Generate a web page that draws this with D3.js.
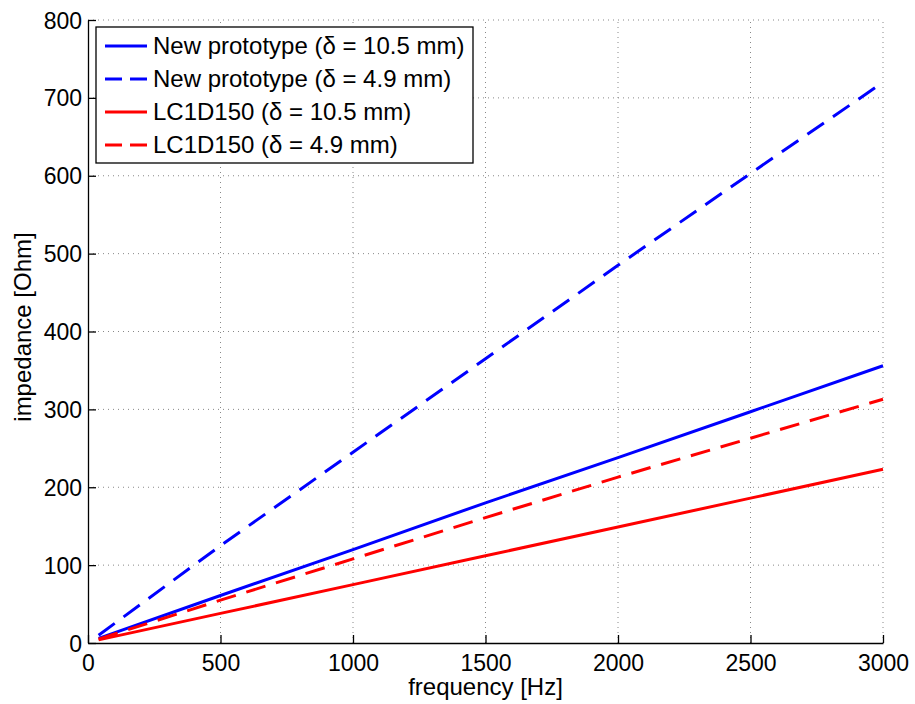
<!DOCTYPE html>
<html>
<head>
<meta charset="utf-8">
<style>
  body { margin: 0; background: #fff; }
  text { font-family: "Liberation Sans", Arial, sans-serif; fill: #000; }
</style>
</head>
<body>
<div id="chart"><svg></svg></div>
<script src="https://d3js.org/d3.v7.min.js"></script>
<script>
var freq = [40, 500, 1000, 1500, 2000, 2500, 3000];
var newProto105 = [6, 61, 120, 180, 238, 297, 356];
var newProto49 = [10, 125, 245, 365, 485, 603, 720];
var lc105 = [4, 38, 75, 112, 149, 186, 223];
var lc49 = [5, 55, 108, 161, 213, 263, 313];
var xTicks = [0, 500, 1000, 1500, 2000, 2500, 3000];
var yTicks = [0, 100, 200, 300, 400, 500, 600, 700, 800];

var series = [
  { name: "New prototype (\u03b4 = 10.5 mm)", values: newProto105, color: "#0000ff", dash: null },
  { name: "New prototype (\u03b4 = 4.9 mm)", values: newProto49, color: "#0000ff", dash: "20,11" },
  { name: "LC1D150 (\u03b4 = 10.5 mm)", values: lc105, color: "#ff0000", dash: null },
  { name: "LC1D150 (\u03b4 = 4.9 mm)", values: lc49, color: "#ff0000", dash: "20,11" }
];

var width = 915, height = 704;
var plotLeft = 88, plotRight = 883, plotTop = 20, plotBottom = 643;

var svg = d3.select("#chart svg").attr("width", width).attr("height", height);

var x = d3.scaleLinear().domain([0, 3000]).range([plotLeft, plotRight]);
var y = d3.scaleLinear().domain([0, 800]).range([plotBottom, plotTop]);

// grid
var grid = svg.append("g");
grid.selectAll(".gx").data(xTicks.slice(1)).enter().append("line")
  .attr("x1", function(d) { return x(d); }).attr("x2", function(d) { return x(d); })
  .attr("y1", plotBottom).attr("y2", plotTop)
  .attr("stroke", "#888").attr("stroke-width", 1).attr("stroke-dasharray", "1,4");
grid.selectAll(".gy").data(yTicks.slice(1)).enter().append("line")
  .attr("y1", function(d) { return y(d); }).attr("y2", function(d) { return y(d); })
  .attr("x1", plotLeft).attr("x2", plotRight)
  .attr("stroke", "#888").attr("stroke-width", 1).attr("stroke-dasharray", "1,4");

// axes (ticks inward like matlab)
var xAxis = svg.append("g").attr("transform", "translate(0," + plotBottom + ")")
  .call(d3.axisBottom(x).tickValues(xTicks).tickFormat(d3.format("d"))
    .tickSizeInner(-8).tickSizeOuter(0).tickPadding(10));
var yAxis = svg.append("g").attr("transform", "translate(" + plotLeft + ",0)")
  .call(d3.axisLeft(y).tickValues(yTicks).tickFormat(d3.format("d"))
    .tickSizeInner(-8).tickSizeOuter(0).tickPadding(6));
[xAxis, yAxis].forEach(function(a) {
  a.select(".domain").attr("stroke", "#000").attr("stroke-width", 1.3);
  a.selectAll(".tick line").attr("stroke", "#000").attr("stroke-width", 1.3);
  a.selectAll(".tick text").style("font-size", "23px").attr("fill", "#000");
});
xAxis.selectAll(".tick text").attr("y", 28).attr("dy", null);
yAxis.selectAll(".tick text").attr("x", -6).attr("dy", "0.35em");

// lines
var line = d3.line()
  .x(function(d, i) { return x(freq[i]); })
  .y(function(d) { return y(d); });

svg.selectAll(".series").data(series).enter().append("path")
  .attr("d", function(s) { return line(s.values); })
  .attr("fill", "none")
  .attr("stroke", function(s) { return s.color; })
  .attr("stroke-width", 3)
  .attr("stroke-dasharray", function(s) { return s.dash; });

// axis titles
svg.append("text").attr("x", (plotLeft + plotRight) / 2).attr("y", 695)
  .attr("text-anchor", "middle").style("font-size", "24px").text("frequency [Hz]");
svg.append("text").attr("transform", "translate(31,327) rotate(-90)")
  .attr("text-anchor", "middle").style("font-size", "24px").text("impedance [Ohm]");

// legend
var lg = svg.append("g");
lg.append("rect").attr("x", 96).attr("y", 27).attr("width", 377).attr("height", 136)
  .attr("fill", "#fff").attr("stroke", "#000").attr("stroke-width", 1.3);
var rows = lg.selectAll(".row").data(series).enter().append("g")
  .attr("transform", function(d, i) { return "translate(0," + (46 + i * 33) + ")"; });
rows.append("line").attr("x1", 105).attr("x2", 147).attr("y1", 0).attr("y2", 0)
  .attr("stroke", function(s) { return s.color; }).attr("stroke-width", 3)
  .attr("stroke-dasharray", function(s) { return s.dash ? "17,8" : null; });
rows.append("text").attr("x", 153).attr("dy", "0.35em").style("font-size", "24px")
  .text(function(s) { return s.name; });
</script>
</body>
</html>
